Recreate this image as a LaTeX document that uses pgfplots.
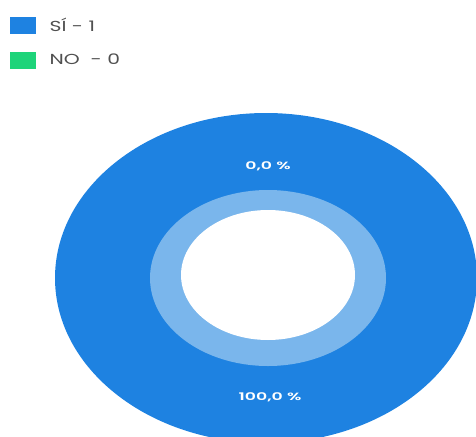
\documentclass[border=0pt]{standalone}
\usepackage{pgfplots}
\pgfplotsset{compat=1.18}
\usepackage{pgfplotstable}
\usepackage{fontspec}
\setmainfont{Poppins}
\newfontfamily\legfont[FakeStretch=1.4]{Poppins}
\newfontfamily\labfont[FakeStretch=1.65]{Poppins SemiBold}
\definecolor{sib}{RGB}{30,130,225}
\definecolor{ring}{RGB}{122,182,236}
\definecolor{nog}{RGB}{30,212,122}
\definecolor{legtxt}{RGB}{80,80,80}
\pgfplotstableread{
label value
SI 1
NO 0
}\piedata
\begin{document}
\begin{tikzpicture}
\useasboundingbox (0,0) rectangle (476pt,436pt);
\begin{axis}[
  at={(0,0)}, anchor=south west,
  scale only axis, width=476pt, height=436pt,
  xmin=0, xmax=476, ymin=0, ymax=436, y dir=reverse,
  hide axis, clip=true,
  legend style={at={(axis cs:10,17)}, anchor=north west, draw=none, fill=none,
    font=\legfont\fontsize{14.5}{16}\selectfont\color{legtxt}, row sep=18pt,
    column sep=13pt, inner sep=0pt, nodes={inner sep=1pt}},
  legend cell align=left,
  legend image code/.code={\fill[#1] (0pt,-8pt) rectangle (25pt,8pt);},
]
\addlegendimage{sib}
\addlegendentry{SÍ - 1}
\addlegendimage{nog}
\addlegendentry{NO \ - 0}
% full wedge for SI (value 1 of 1 = 100 %)
\fill[sib] (axis cs:266,278) ellipse [x radius=211, y radius=165];
\fill[ring] (axis cs:268,278) ellipse [x radius=118, y radius=88];
\fill[white] (axis cs:268,275) ellipse [x radius=87, y radius=65];
\node[text=white, font=\labfont\fontsize{10.5}{12}\selectfont] at (axis cs:268,166) {0,0 \%};
\node[text=white, font=\labfont\fontsize{10.5}{12}\selectfont] at (axis cs:270,397) {100,0 \%};
\end{axis}
\end{tikzpicture}
\end{document}
